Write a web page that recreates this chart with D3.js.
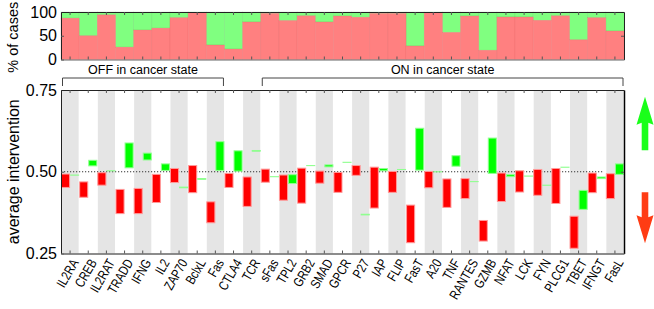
<!DOCTYPE html>
<html>
<head>
<meta charset="utf-8">
<script src="https://cdn.jsdelivr.net/npm/d3@7"></script>
<style>
body { margin: 0; background: #fff; }
svg { display: block; font-family: "Liberation Sans", Arial, Helvetica, sans-serif; }
</style>
</head>
<body>
<svg id="chart" width="654" height="309"></svg>
<script>
// categories
const genes = ["IL2RA","CREB","IL2RAT","TRADD","IFNG","IL2","ZAP70","BclxL","Fas","CTLA4","TCR",
  "sFas","TPL2","GRB2","SMAD","GPCR","P27","IAP","FLIP","FasT","A20","TNF","RANTES","GZMB",
  "NFAT","LCK","FYN","PLCG1","TBET","IFNGT","FasL"];

// % of cases (red part, rest is green)
const pctOff = [87,50,94,26,62,66,88,98.5,30.5,22,79,97,82,92,79,91.5,89,97,97,28.5,98.5,57,91.5,19.5,
  89.5,89.5,82.5,92,41.5,88,60];

// average intervention, red bars (low / high)
const redLow  = [0.452,0.422,0.459,0.372,0.372,0.406,0.467,0.436,0.344,0.452,0.394,0.468,0.413,0.404,0.465,
  0.437,0.489,0.389,0.437,0.283,0.451,0.391,0.418,0.288,0.409,0.438,0.428,0.403,0.266,0.436,0.418];
const redHigh = [0.493,0.469,0.497,0.446,0.449,0.492,0.510,0.519,0.408,0.495,0.484,0.508,0.490,0.511,0.502,
  0.498,0.519,0.514,0.501,0.398,0.501,0.478,0.479,0.351,0.496,0.503,0.507,0.510,0.364,0.496,0.494];

// average intervention, green bars (low / high)
const greenLow  = [0.490,0.518,0.503,0.512,0.536,0.504,0.451,0.477,0.504,0.502,0.563,0.485,0.464,0.519,0.515,
  0.529,0.368,0.503,0.507,0.505,0.500,0.517,0.470,0.495,0.485,0.487,0.459,0.514,0.385,0.479,0.492];
const greenHigh = [0.490,0.535,0.503,0.588,0.557,0.524,0.453,0.479,0.592,0.564,0.565,0.485,0.491,0.519,0.521,
  0.529,0.370,0.510,0.507,0.633,0.500,0.549,0.470,0.603,0.491,0.487,0.459,0.514,0.443,0.484,0.524];

const mainTicks = [0.25, 0.5, 0.75];
const topTicks = [0, 50, 100];
const groupLabels = ["OFF in cancer state", "ON in cancer state"];
const groupFrom = ["IL2RA", "sFas"];
const groupTo = ["Fas", "FasL"];

const svg = d3.select("#chart");
const left = 61, right = 624;

const x = d3.scaleBand().domain(genes).range([left, right]).padding(0);
const bw = x.bandwidth();
const yTop = d3.scaleLinear().domain([0, 100]).range([59.5, 12]);
const y = d3.scaleLinear().domain([0.25, 0.75]).range([253.5, 90]);

// ---- top panel: % of cases
const topG = svg.append("g");
topG.selectAll("rect.on").data(genes).join("rect")
  .attr("x", d => x(d)).attr("width", bw)
  .attr("y", yTop(100))
  .attr("height", (d, i) => yTop(pctOff[i]) - yTop(100))
  .attr("fill", "#80ff80").attr("stroke", "rgba(90,200,90,0.35)").attr("stroke-width", 0.6);
topG.selectAll("rect.off").data(genes).join("rect")
  .attr("x", d => x(d)).attr("width", bw)
  .attr("y", (d, i) => yTop(pctOff[i]))
  .attr("height", (d, i) => yTop(0) - yTop(pctOff[i]))
  .attr("fill", "#ff8080").attr("stroke", "rgba(220,90,90,0.35)").attr("stroke-width", 0.6);

function styleAxis(g, size) {
  g.attr("font-family", null).attr("font-size", size);
  g.selectAll("path.domain").attr("stroke", "#222");
  g.selectAll(".tick line").attr("stroke", "#555");
  g.selectAll(".tick text").attr("fill", "#000");
}

svg.append("g").attr("transform", `translate(${left},0)`)
  .call(d3.axisLeft(yTop).tickValues(topTicks).tickSizeInner(-3).tickSizeOuter(0).tickPadding(4))
  .call(styleAxis, 16);
svg.append("g").attr("transform", `translate(${right},0)`)
  .call(d3.axisRight(yTop).tickValues([50]).tickSizeInner(-3).tickSizeOuter(0).tickFormat(""))
  .call(styleAxis, 16);
svg.append("g").attr("transform", `translate(0,${yTop(100)})`)
  .call(d3.axisTop(x).tickSizeInner(-3).tickSizeOuter(0).tickFormat(""))
  .call(styleAxis, 12);
svg.append("g").attr("transform", `translate(0,${yTop(0)})`)
  .call(d3.axisBottom(x).tickSizeInner(-3).tickSizeOuter(0).tickFormat(""))
  .call(styleAxis, 12)
  .selectAll("path.domain").attr("stroke", "#666");

svg.append("text")
  .attr("transform", `translate(18,${(yTop(0) + yTop(100)) / 2 + 1.5}) rotate(-90)`)
  .attr("text-anchor", "middle").attr("font-size", 14.5)
  .text("% of cases");

// ---- group brackets
groupLabels.forEach((lab, i) => {
  const x0 = x(groupFrom[i]) + 1.5, x1 = x(groupTo[i]) + bw - 1;
  svg.append("path")
    .attr("d", `M${x0},86V78H${x1}V86`)
    .attr("fill", "none").attr("stroke", "#444").attr("stroke-width", 1);
  svg.append("text")
    .attr("x", (x0 + x1) / 2).attr("y", 74)
    .attr("text-anchor", "middle").attr("font-size", 12.5)
    .text(lab);
});

// ---- main panel
const mainG = svg.append("g");
mainG.selectAll("rect.band").data(genes.filter((d, i) => i % 2 === 0)).join("rect")
  .attr("x", d => x(d) + 0.5).attr("width", bw - 1)
  .attr("y", y(0.75)).attr("height", y(0.25) - y(0.75))
  .attr("fill", "#e5e5e5");

mainG.append("line")
  .attr("x1", left).attr("x2", x("IFNGT") + bw - 2)
  .attr("y1", y(0.5)).attr("y2", y(0.5))
  .attr("stroke", "#333").attr("stroke-width", 1.2).attr("stroke-dasharray", "1.2,1.8");

mainG.selectAll("rect.red").data(genes).join("rect")
  .attr("x", d => x(d) + 0.5).attr("width", bw / 2 - 1)
  .attr("y", (d, i) => y(redHigh[i]))
  .attr("height", (d, i) => Math.max(0.1, y(redLow[i]) - y(redHigh[i])))
  .attr("fill", "#ff0000").attr("stroke", "#ff9a9a").attr("stroke-width", 1);

mainG.selectAll("rect.green").data(genes).join("rect")
  .attr("x", d => x(d) + bw / 2 + 0.5).attr("width", bw / 2 - 1)
  .attr("y", (d, i) => y(greenHigh[i]))
  .attr("height", (d, i) => Math.max(0.1, y(greenLow[i]) - y(greenHigh[i])))
  .attr("fill", "#00ff00").attr("stroke", "#90ff90").attr("stroke-width", 1);

svg.append("g").attr("transform", `translate(${left},0)`)
  .call(d3.axisLeft(y).tickValues(mainTicks).tickFormat(d3.format(".2f"))
    .tickSizeInner(-3).tickSizeOuter(0).tickPadding(4))
  .call(styleAxis, 16);
svg.append("g").attr("transform", `translate(${right},0)`)
  .call(d3.axisRight(y).tickValues([0.5]).tickSizeInner(-3).tickSizeOuter(0).tickFormat(""))
  .call(styleAxis, 16)
  .selectAll("path.domain").attr("stroke", "#000").attr("stroke-width", 1.5);
svg.append("g").attr("transform", `translate(0,${y(0.75)})`)
  .call(d3.axisTop(x).tickSizeInner(-3).tickSizeOuter(0).tickFormat(""))
  .call(styleAxis, 12);
svg.append("g").attr("transform", `translate(0,${y(0.25)})`)
  .call(d3.axisBottom(x).tickSizeInner(-3).tickSizeOuter(0).tickFormat(""))
  .call(styleAxis, 12)
  .selectAll("path.domain").attr("stroke", "#666").attr("stroke-width", 1.5);

svg.append("text")
  .attr("transform", `translate(19,${(y(0.25) + y(0.75)) / 2}) rotate(-90)`)
  .attr("text-anchor", "middle").attr("font-size", 16)
  .text("average intervention");

// x labels (slightly condensed)
svg.append("g").selectAll("text").data(genes).join("text")
  .attr("transform", d => `translate(${x(d) + bw / 2 + 9},${y(0.25) + 9}) rotate(-60) scale(0.8,1)`)
  .attr("text-anchor", "end").attr("font-size", 13.5)
  .text(d => d);

// ---- direction arrows
function arrow(yTail, yTip, color) {
  const cx = 645, dir = yTip < yTail ? 1 : -1;
  const headBase = yTip + dir * 27;
  const p = d3.path();
  p.moveTo(cx, yTip);
  p.lineTo(cx + 8.5, headBase + dir * 1);
  p.lineTo(cx + 3.3, headBase - dir * 1);
  p.lineTo(cx + 3.3, yTail);
  p.lineTo(cx - 3.3, yTail);
  p.lineTo(cx - 3.3, headBase - dir * 1);
  p.lineTo(cx - 8.5, headBase + dir * 1);
  p.closePath();
  svg.append("path").attr("d", p.toString()).attr("fill", color);
}
arrow(y(0.566), y(0.729), "#1aff1a");
arrow(y(0.437), y(0.281), "#ff3c14");
</script>
</body>
</html>
